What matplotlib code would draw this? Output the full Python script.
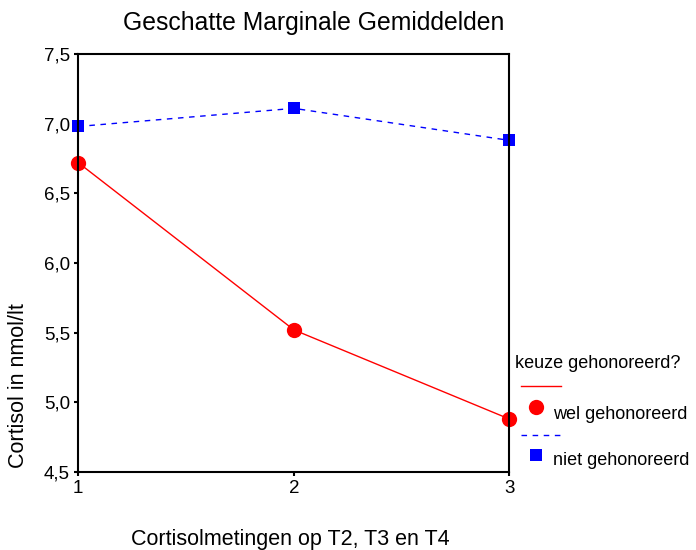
import matplotlib
matplotlib.use("Agg")
import matplotlib.pyplot as plt
from matplotlib.lines import Line2D

plt.rcParams['font.family'] = ['Liberation Sans', 'DejaVu Sans']

# Data
metingen = [1, 2, 3]
wel_gehonoreerd = [6.72, 5.52, 4.88]
niet_gehonoreerd = [6.98, 7.11, 6.88]
y_ticks = [4.5, 5.0, 5.5, 6.0, 6.5, 7.0, 7.5]
y_labels = ["4,5", "5,0", "5,5", "6,0", "6,5", "7,0", "7,5"]

fig = plt.figure(figsize=(6.96, 5.5), dpi=100)
ax = fig.add_axes([0.1125, 0.1418, 0.6195, 0.76])

# Plot series
ax.plot(metingen, niet_gehonoreerd, color="#0000ff", linestyle=(0, (4, 4)),
        linewidth=1, marker="s", markersize=8, markeredgewidth=0, clip_on=False)
ax.plot(metingen, wel_gehonoreerd, color="#ff0000", linewidth=1,
        marker="o", markersize=11, markeredgewidth=0, clip_on=False)

ax.set_xlim(1, 3)
ax.set_ylim(4.5, 7.5)
ax.set_xticks(metingen)
ax.set_xticklabels([str(m) for m in metingen])
ax.set_yticks(y_ticks)
ax.set_yticklabels(y_labels)

for s in ax.spines.values():
    s.set_color("black")
    s.set_linewidth(1.5)

ax.tick_params(direction="out", length=3, width=1.5, labelsize=13.5, pad=3)

# Axis labels and title
ax.set_ylabel("Cortisol in nmol/lt", fontsize=15.5)
ax.yaxis.set_label_coords(-0.114, 0.208)
ax.set_xlabel("Cortisolmetingen op T2, T3 en T4", fontsize=15.5)
ax.xaxis.set_label_coords(0.491, -0.136)
fig.text(0.451, 0.958, "Geschatte Marginale Gemiddelden", fontsize=17.8,
         ha="center", va="center")

# Legend drawn by hand, SPSS style
fs = 13
fig.text(0.740, 0.340, "keuze gehonoreerd?", fontsize=fs, ha="left", va="center")
fig.add_artist(Line2D([0.7486, 0.806], [0.298, 0.298], color="#ff0000",
                      linewidth=1, transform=fig.transFigure))
fig.add_artist(Line2D([0.770], [0.260], color="#ff0000", marker="o",
                      markersize=11, markeredgewidth=0, transform=fig.transFigure))
fig.text(0.7945, 0.247, "wel gehonoreerd", fontsize=fs, ha="left", va="center")
fig.add_artist(Line2D([0.7486, 0.806], [0.209, 0.209], color="#0000ff",
                      linestyle=(0, (4, 4)), linewidth=1, transform=fig.transFigure))
fig.add_artist(Line2D([0.770], [0.173], color="#0000ff", marker="s",
                      markersize=8, markeredgewidth=0, transform=fig.transFigure))
fig.text(0.7945, 0.162, "niet gehonoreerd", fontsize=fs, ha="left", va="center")

fig.savefig("out.png", dpi=100)
